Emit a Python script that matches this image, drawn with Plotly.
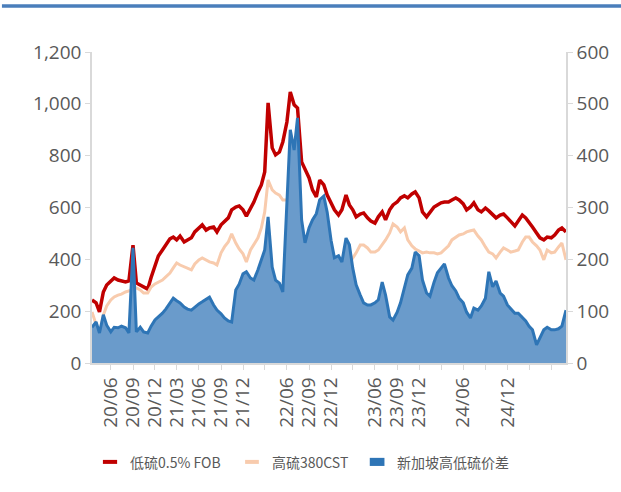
import pandas as pd
import plotly.graph_objects as go

# semi-monthly observation dates
dates = pd.date_range("2020-03-15", "2025-08-01", freq="SMS")

# 低硫0.5% FOB (USD/t, left axis)
lsfo = [243, 232, 197, 274, 301, 317, 328, 320, 317, 313, 317, 455, 309, 301, 293, 285,
        330, 378, 413, 436, 455, 479, 486, 475, 490, 467, 475, 483, 506, 521, 533, 513,
        521, 525, 506, 533, 544, 560, 591, 602, 606, 591, 567, 598, 621, 660, 687, 737,
        1004, 830, 803, 814, 853, 930, 1046, 996, 984, 776, 745, 714, 668, 641, 706, 687,
        648, 618, 591, 571, 591, 648, 610, 591, 564, 575, 579, 560, 548, 540, 564, 583,
        552, 591, 610, 621, 637, 645, 637, 652, 660, 637, 583, 564, 583, 602, 610, 618,
        621, 621, 629, 637, 629, 614, 591, 602, 618, 591, 583, 598, 587, 571, 560, 571,
        575, 560, 544, 529, 548, 571, 560, 544, 525, 502, 483, 475, 486, 483, 494, 513,
        521, 506]

# 高硫380CST (USD/t, left axis)
hsfo = [197, 147, 108, 185, 220, 243, 255, 262, 266, 274, 278, 286, 290, 282, 270, 270,
        293, 305, 313, 320, 332, 347, 367, 386, 378, 371, 367, 359, 382, 398, 405, 398,
        390, 386, 378, 425, 448, 467, 498, 463, 440, 421, 390, 436, 459, 483, 521, 583,
        706, 668, 656, 648, 629, 629, 598, 560, 494, 467, 475, 436, 374, 359, 378, 390,
        398, 378, 359, 347, 359, 374, 390, 405, 425, 455, 455, 444, 428, 428, 436, 455,
        475, 502, 537, 525, 506, 521, 475, 452, 440, 432, 425, 428, 425, 425, 421, 425,
        436, 452, 475, 486, 494, 498, 506, 510, 513, 490, 475, 448, 428, 421, 405, 428,
        444, 436, 428, 432, 436, 467, 486, 486, 467, 452, 436, 398, 436, 425, 428, 448,
        463, 398]

# 新加坡高低硫价差 (USD/t, right axis)
spread = [69, 79, 58, 93, 73, 60, 69, 68, 71, 68, 58, 222, 60, 69, 60, 58,
          71, 83, 89, 96, 104, 116, 125, 120, 116, 108, 104, 102, 108, 114, 118, 122,
          127, 112, 102, 95, 87, 81, 79, 141, 152, 172, 176, 164, 160, 180, 199, 218,
          282, 185, 160, 154, 137, 305, 450, 411, 473, 276, 232, 261, 276, 288, 315, 322,
          291, 237, 203, 207, 195, 241, 228, 183, 151, 131, 116, 112, 112, 116, 122, 156,
          131, 89, 83, 98, 116, 145, 170, 183, 214, 207, 160, 135, 129, 156, 174, 183,
          191, 164, 149, 139, 125, 116, 98, 87, 106, 102, 110, 125, 176, 147, 158, 135,
          129, 112, 104, 96, 96, 87, 81, 71, 64, 35, 48, 64, 69, 64, 64, 66,
          71, 102]

tick_dates = ["2020-06-01", "2020-09-01", "2020-12-01", "2021-03-01", "2021-06-01",
              "2021-09-01", "2021-12-01", "2022-06-01", "2022-09-01", "2022-12-01",
              "2023-06-01", "2023-09-01", "2023-12-01", "2024-06-01", "2024-12-01"]
tick_text = ["20/06", "20/09", "20/12", "21/03", "21/06", "21/09", "21/12", "22/06",
             "22/09", "22/12", "23/06", "23/09", "23/12", "24/06", "24/12"]

legend_names = ["低硫0.5% FOB", "高硫380CST", "新加坡高低硫价差"]

RED = "#C00000"
PEACH = "#F8CBAD"
BLUE = "#2E75B6"
FILL = "#6A9BCB"
GREY = "#595959"
AXIS = "#D9D9D9"

fig = go.Figure()
fig.add_trace(go.Scatter(x=dates, y=lsfo, mode="lines", name=legend_names[0],
                         line=dict(color=RED, width=3.5), showlegend=False))
fig.add_trace(go.Scatter(x=dates, y=spread, mode="lines", name=legend_names[2],
                         line=dict(color=BLUE, width=3), fill="tozeroy",
                         fillcolor=FILL, yaxis="y2", showlegend=False))
fig.add_trace(go.Scatter(x=dates, y=hsfo, mode="lines", name=legend_names[1],
                         line=dict(color=PEACH, width=3), showlegend=False))

# reorder so peach sits above the area and red below (red first, then area, then peach)
tickfont = dict(family="Open Sans, sans-serif", size=19, color=GREY)

fig.update_layout(
    width=621, height=492,
    margin=dict(l=92, r=55, t=52, b=129),
    paper_bgcolor="white", plot_bgcolor="white",
    showlegend=False,
    xaxis=dict(type="date", range=["2020-03-15", "2025-08-01"],
               tickvals=tick_dates, ticktext=tick_text, tickangle=-90,
               tickfont=tickfont, showgrid=False, zeroline=False,
               showline=True, linecolor=AXIS, linewidth=1.5,
               ticks="outside", ticklen=5, tickcolor=AXIS,
               minor=dict(dtick="M3", tick0="2020-06-01", ticks="outside",
                          ticklen=5, tickcolor=AXIS, showgrid=False)),
    yaxis=dict(range=[0, 1200], tickvals=[0, 200, 400, 600, 800, 1000, 1200],
               tickformat=",d", tickfont=tickfont, showgrid=False, zeroline=False,
               showline=True, linecolor=AXIS, linewidth=1.5,
               ticks="outside", ticklen=5, tickcolor=AXIS),
    yaxis2=dict(range=[0, 600], tickvals=[0, 100, 200, 300, 400, 500, 600],
                overlaying="y", side="right", tickfont=tickfont, showgrid=False,
                zeroline=False, showline=True, linecolor=AXIS, linewidth=1.5,
                ticks="outside", ticklen=5, tickcolor=AXIS),
)

# top decorative rule
fig.add_shape(type="line", xref="paper", yref="paper", x0=-0.19, x1=1.12,
              y0=1.148, y1=1.148, line=dict(color="#4A7EBB", width=3.5))

# manual legend
ly = -0.318
fig.add_shape(type="line", xref="paper", yref="paper", x0=0.023, x1=0.053,
              y0=ly, y1=ly, line=dict(color=RED, width=4))
fig.add_shape(type="line", xref="paper", yref="paper", x0=0.323, x1=0.352,
              y0=ly, y1=ly, line=dict(color=PEACH, width=4))
fig.add_shape(type="rect", xref="paper", yref="paper", x0=0.586, x1=0.617,
              y0=ly - 0.013, y1=ly + 0.013, line=dict(width=0), fillcolor=BLUE)
legfont = dict(family="Noto Sans CJK SC, sans-serif", size=14, color=GREY)
for xpos, txt in [(0.076, legend_names[0]), (0.376, legend_names[1]), (0.639, legend_names[2])]:
    fig.add_annotation(x=xpos, y=ly, xref="paper", yref="paper", text=txt,
                       showarrow=False, xanchor="left", yanchor="middle", font=legfont)

fig.write_html("out.html")
